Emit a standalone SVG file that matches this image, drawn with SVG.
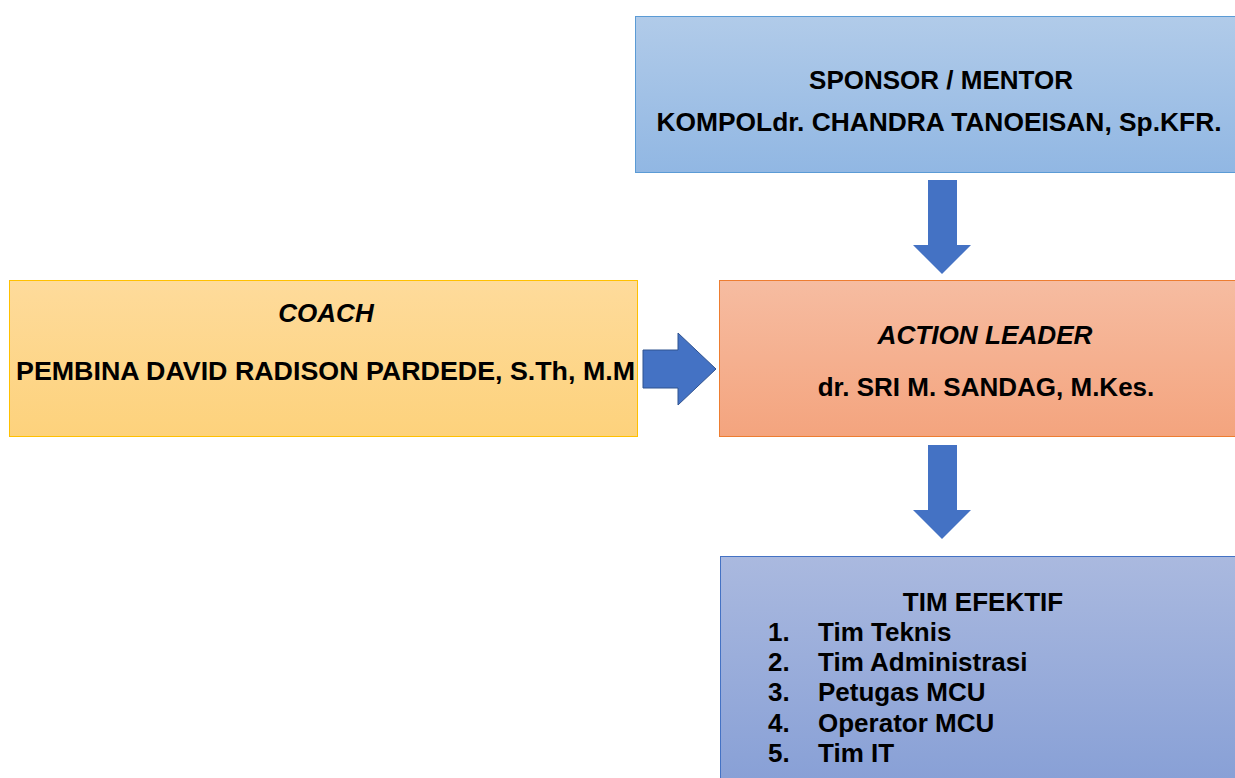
<svg xmlns="http://www.w3.org/2000/svg" width="1235" height="778" viewBox="0 0 1235 778">
<style>
.t{font-family:"Liberation Sans",Arial,sans-serif;font-weight:bold;font-size:26px;fill:#000}
.i{font-style:italic}
.m{text-anchor:middle}
.arr{fill:#4472c4}
</style>
<defs>
<linearGradient id="gBlue" x1="0" y1="0" x2="0" y2="1"><stop offset="0" stop-color="#b1cbe9"/><stop offset="1" stop-color="#91b7e3"/></linearGradient>
<linearGradient id="gYel" x1="0" y1="0" x2="0" y2="1"><stop offset="0" stop-color="#fedb9b"/><stop offset="1" stop-color="#fdd27c"/></linearGradient>
<linearGradient id="gOra" x1="0" y1="0" x2="0" y2="1"><stop offset="0" stop-color="#f6bca1"/><stop offset="1" stop-color="#f4a47e"/></linearGradient>
<linearGradient id="gTim" x1="0" y1="0" x2="0" y2="1"><stop offset="0" stop-color="#aab9df"/><stop offset="1" stop-color="#88a0d6"/></linearGradient>
</defs>
<rect width="1235" height="778" fill="#fff"/>
<g id="sponsor">
<rect x="635.5" y="16.5" width="602" height="156" fill="url(#gBlue)" stroke="#5b9bd5" stroke-width="1"/>
<text class="t m" x="941" y="89">SPONSOR / MENTOR</text>
<text class="t m" x="939" y="131" textLength="565" lengthAdjust="spacingAndGlyphs">KOMPOLdr. CHANDRA TANOEISAN, Sp.KFR.</text>
</g>
<g id="coach">
<rect x="9.5" y="280.5" width="628" height="156" fill="url(#gYel)" stroke="#ffc000" stroke-width="1"/>
<text class="t i m" x="326" y="322">COACH</text>
<text class="t" x="16" y="380" textLength="619" lengthAdjust="spacingAndGlyphs">PEMBINA DAVID RADISON PARDEDE, S.Th, M.M</text>
</g>
<g id="action-leader">
<rect x="719.5" y="280.5" width="518" height="156" fill="url(#gOra)" stroke="#ed7d31" stroke-width="1"/>
<text class="t i m" x="985" y="344" textLength="215" lengthAdjust="spacingAndGlyphs">ACTION LEADER</text>
<text class="t m" x="986" y="396">dr. SRI M. SANDAG, M.Kes.</text>
</g>
<g id="tim-efektif">
<rect x="720.5" y="556.5" width="517" height="225" fill="url(#gTim)" stroke="#4472c4" stroke-width="1"/>
<text class="t m" x="983" y="611">TIM EFEKTIF</text>
<text class="t" x="768" y="641">1.</text><text class="t" x="818" y="641">Tim Teknis</text>
<text class="t" x="768" y="671">2.</text><text class="t" x="818" y="671">Tim Administrasi</text>
<text class="t" x="768" y="701">3.</text><text class="t" x="818" y="701">Petugas MCU</text>
<text class="t" x="768" y="732">4.</text><text class="t" x="818" y="732">Operator MCU</text>
<text class="t" x="768" y="762">5.</text><text class="t" x="818" y="762">Tim IT</text>
</g>
<g id="connectors">
<polygon class="arr" points="928,180 957,180 957,245 971,245 942,274 913,245 928,245"/>
<polygon class="arr" points="643,350 678,350 678,333 716,369 678,405 678,388 643,388" stroke="#2f528f" stroke-width="1"/>
<polygon class="arr" points="928,445 957,445 957,510 971,510 942,539 913,510 928,510"/>
</g>
</svg>
